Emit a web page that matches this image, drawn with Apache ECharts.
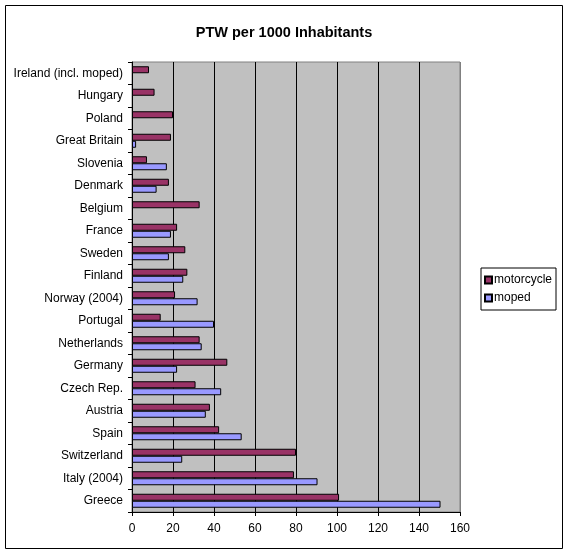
<!DOCTYPE html>
<html>
<head>
<meta charset="utf-8">
<script src="https://cdn.jsdelivr.net/npm/echarts@6/dist/echarts.min.js"></script>
<style>
  html, body { margin: 0; padding: 0; background: #fff; }
  #chart { width: 568px; height: 555px; }
</style>
</head>
<body>
<div id="chart"></div>
<script>
// categories bottom to top (Excel order)
var countries = ['Greece', 'Italy (2004)', 'Switzerland', 'Spain', 'Austria', 'Czech Rep.',
    'Germany', 'Netherlands', 'Portugal', 'Norway (2004)', 'Finland', 'Sweden', 'France',
    'Belgium', 'Denmark', 'Slovenia', 'Great Britain', 'Poland', 'Hungary', 'Ireland (incl. moped)'];
var motorcycle = [101, 79, 80, 42.5, 38, 31, 46.5, 33, 14, 21, 27, 26, 22,
    33, 18, 7.3, 19, 20, 11, 8.3];
var moped = [150.5, 90.5, 24.5, 53.5, 36, 43.5, 22, 34, 40, 32, 25, 18, 19,
    null, 12, 17, 2, null, null, null];
var xTicks = [0, 20, 40, 60, 80, 100, 120, 140, 160];

var chart = echarts.init(document.getElementById('chart'));
var font = 'Arial, "Liberation Sans", sans-serif';

var option = {
    animation: false,
    textStyle: { fontFamily: font },
    title: {
        text: 'PTW per 1000 Inhabitants',
        left: 'center',
        top: 20,
        textStyle: { fontSize: 14.5, fontWeight: 'bold', color: '#000', fontFamily: font }
    },
    legend: {
        orient: 'vertical',
        left: 481,
        top: 268,
        width: 76,
        padding: [6, 4, 6, 3],
        itemGap: 6,
        itemWidth: 7,
        itemHeight: 7,
        icon: 'rect',
        borderColor: '#000',
        borderWidth: 1,
        backgroundColor: '#fff',
        textStyle: { fontSize: 12, color: '#000', padding: [0, 0, 0, -3] },
        data: ['motorcycle', 'moped']
    },
    grid: {
        left: 132,
        right: 108,
        top: 62,
        bottom: 43,
        show: true,
        backgroundColor: '#C0C0C0',
        borderColor: '#808080',
        borderWidth: 1
    },
    xAxis: {
        type: 'value',
        min: 0,
        max: 160,
        interval: 20,
        axisLine: { show: true, lineStyle: { color: '#000' } },
        axisTick: { show: true, length: 4, lineStyle: { color: '#000' } },
        axisLabel: {
            color: '#000', fontSize: 12, margin: 11,
            formatter: function (v) { return xTicks.indexOf(v) >= 0 ? String(v) : ''; }
        },
        splitLine: {
            show: true,
            lineStyle: { color: ['#000', '#000', '#000', '#000', '#000', '#000', '#000', '#000', '#808080'], width: 1 }
        }
    },
    yAxis: {
        type: 'category',
        data: countries,
        axisLine: { show: true, lineStyle: { color: '#000' } },
        axisTick: { show: true, length: 4, lineStyle: { color: '#000' } },
        axisLabel: { color: '#000', fontSize: 12, margin: 9, interval: 0 },
        splitLine: { show: false }
    },
    series: [
        {
            name: 'motorcycle',
            type: 'bar',
            data: motorcycle,
            barWidth: 7,
            barGap: '0%',
            itemStyle: { color: '#993366', borderColor: '#000', borderWidth: 1 }
        },
        {
            name: 'moped',
            type: 'bar',
            data: moped,
            barWidth: 7,
            barGap: '0%',
            itemStyle: { color: '#9999FF', borderColor: '#000', borderWidth: 1 }
        }
    ],
    graphic: [
        {
            type: 'rect',
            shape: { x: 5.5, y: 5.5, width: 557, height: 543 },
            style: { fill: 'none', stroke: '#000', lineWidth: 1 },
            silent: true,
            z: -1
        }
    ]
};
chart.setOption(option);
</script>
</body>
</html>
